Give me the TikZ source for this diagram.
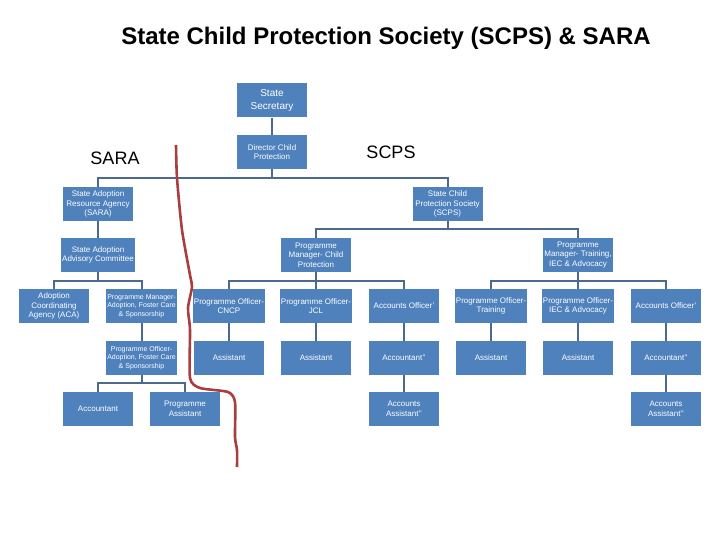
\documentclass[tikz,border=0pt]{standalone}
\usepackage{fontspec}
\setmainfont{Liberation Sans}
\definecolor{boxblue}{RGB}{79,129,189}
\definecolor{linkblue}{RGB}{76,106,140}
\definecolor{penred}{RGB}{168,62,62}

\begin{document}
\begin{tikzpicture}[x=1pt, y=-1pt,
  box/.style={fill=boxblue, text=white, minimum width=70pt, minimum height=34pt,
    inner sep=1pt, align=center, font=\fontsize{8}{9.5}\selectfont},
  smallbox/.style={box, font=\fontsize{7}{8.5}\selectfont},
  link/.style={draw=linkblue, line width=2pt},
  side/.style={font=\fontsize{18}{20}\selectfont}]
\useasboundingbox (0,0) rectangle (720,540);
% title and side labels
\node (title) at (386,38) {\fontsize{24}{28}\selectfont\bfseries State Child Protection Society (SCPS) \& SARA};
\node[side] (lsara) at (115,158) {SARA};
\node[side] (lscps) at (391,152) {SCPS};
% top levels
\node[box, font=\fontsize{10}{13}\selectfont] (sec) at (272,100.5) {State\\Secretary};
\node[box] (dir) at (272,152) {Director Child\\Protection};
\node[box] (sara) at (98,204) {State Adoption\\Resource Agency\\(SARA)};
\node[box] (scps) at (447.5,204) {State Child\\Protection Society\\(SCPS)};
\node[box] (saac) at (98,255) {State Adoption\\Advisory Committee};
\node[box] (pmcp) at (316,255) {Programme\\Manager- Child\\Protection};
\node[box] (pmtr) at (578,255) {Programme\\Manager- Training,\\IEC \& Advocacy};
% third row
\node[box] (aca) at (54,306) {Adoption\\Coordinating\\Agency (ACA)};
\node[smallbox] (pmafs) at (141.5,306) {Programme Manager-\\Adoption, Foster Care\\\& Sponsorship};
\node[box] (cncp) at (229,306) {Programme Officer-\\CNCP};
\node[box] (jcl) at (316,306) {Programme Officer-\\JCL};
\node[box] (ao1) at (404,306) {Accounts Officer'};
\node[box] (potr) at (491,306) {Programme Officer-\\Training};
\node[box] (poiec) at (578,306) {Programme Officer-\\IEC \& Advocacy};
\node[box] (ao2) at (666,306) {Accounts Officer'};
% fourth row
\node[smallbox] (poafs) at (141.5,358) {Programme Officer-\\Adoption, Foster Care\\\& Sponsorship};
\node[box] (as1) at (229,358) {Assistant};
\node[box] (as2) at (316,358) {Assistant};
\node[box] (acc1) at (404,358) {Accountant'{}'};
\node[box] (as3) at (491,358) {Assistant};
\node[box] (as4) at (578,358) {Assistant};
\node[box] (acc2) at (666,358) {Accountant'{}'};
% fifth row
\node[box] (acct) at (98,409) {Accountant};
\node[box] (pa) at (185,409) {Programme\\Assistant};
\node[box] (aa1) at (404,409) {Accounts\\Assistant'{}'};
\node[box] (aa2) at (666,409) {Accounts\\Assistant'{}'};
% connectors
\draw[link] (sec) -- (dir);
\draw[link] (dir.south) -- ++(0,9) -| (sara.north);
\draw[link] (dir.south) -- ++(0,9) -| (scps.north);
\draw[link] (sara) -- (saac);
\foreach \c in {aca,pmafs}
  \draw[link] (saac.south) -- ++(0,9) -| (\c.north);
\foreach \c in {pmcp,pmtr}
  \draw[link] (scps.south) -- ++(0,8) -| (\c.north);
\foreach \c in {cncp,jcl,ao1}
  \draw[link] (pmcp.south) -- ++(0,9) -| (\c.north);
\foreach \c in {potr,poiec,ao2}
  \draw[link] (pmtr.south) -- ++(0,9) -| (\c.north);
\foreach \a/\b in {pmafs/poafs,cncp/as1,jcl/as2,ao1/acc1,potr/as3,poiec/as4,ao2/acc2,acc1/aa1,acc2/aa2}
  \draw[link] (\a) -- (\b);
\foreach \c in {acct,pa}
  \draw[link] (poafs.south) -- ++(0,8) -| (\c.north);
% dividing pen line
\draw[penred, line width=2.6pt] plot[smooth, tension=0.4] coordinates {(176,145) (177,178) (182,230) (190,275) (192,287) (188,308) (190,330) (190,378) (200,388) (228,392) (235,402) (235,437) (237,450) (237,467)};
\end{tikzpicture}
\end{document}
